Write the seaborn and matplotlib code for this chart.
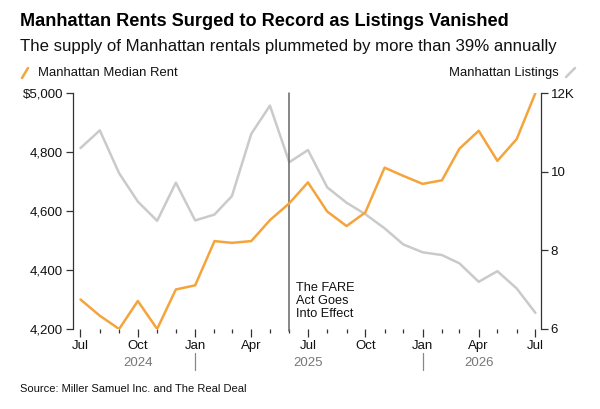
import numpy as np
import pandas as pd
import seaborn as sns
import matplotlib
matplotlib.use('Agg')
import matplotlib.pyplot as plt
import matplotlib.dates as mdates
from matplotlib.lines import Line2D
from matplotlib.ticker import FuncFormatter

months = pd.date_range("2024-07-01", periods=25, freq="MS")
rent = [4300, 4245, 4200, 4295, 4200, 4334, 4348, 4498, 4492, 4498, 4569, 4626,
        4697, 4598, 4549, 4595, 4747, 4719, 4692, 4704, 4811, 4872, 4770, 4844, 5000]
listings = [10.60, 11.05, 9.96, 9.24, 8.75, 9.72, 8.76, 8.91, 9.38, 10.96, 11.68, 10.24,
            10.55, 9.60, 9.21, 8.92, 8.56, 8.15, 7.95, 7.88, 7.67, 7.20, 7.47, 7.03, 6.41]
rent_ticks = [4200, 4400, 4600, 4800, 5000]
listing_ticks = [6, 8, 10, 12]
year_labels = ["2024", "2025", "2026"]
year_centers = ["2024-10-01", "2025-07-01", "2026-04-01"]
year_breaks = ["2025-01-01", "2026-01-01"]
event_date = "2025-06-01"

ORANGE = "#f5a43c"
GRAY = "#cacaca"
DARK = "#333333"
TXT = "#111111"

df = pd.DataFrame({"month": months, "rent": rent, "listings": listings})

sns.set_style("ticks")
plt.rcParams['font.family'] = ['Liberation Sans', 'DejaVu Sans']

fig = plt.figure(figsize=(6, 4.09), dpi=100)
ax = fig.add_axes([0.1217, 0.1956, 0.78, 0.577])
ax2 = ax.twinx()

# listings go behind the rent line
ax.set_zorder(ax2.get_zorder() + 1)
ax.patch.set_visible(False)

sns.lineplot(data=df, x="month", y="listings", ax=ax2, color=GRAY, linewidth=1.8)
sns.lineplot(data=df, x="month", y="rent", ax=ax, color=ORANGE, linewidth=1.8)

ax.set_xlim(pd.Timestamp("2024-06-19"), pd.Timestamp("2026-07-10"))
ax.set_ylim(4200, 5000)
ax2.set_ylim(6, 12)
ax.set_yticks(rent_ticks)
ax2.set_yticks(listing_ticks)
ax.yaxis.set_major_formatter(FuncFormatter(lambda v, p: f"${v:,.0f}" if v == 5000 else f"{v:,.0f}"))
ax2.yaxis.set_major_formatter(FuncFormatter(lambda v, p: f"{v:.0f}K" if v == 12 else f"{v:.0f}"))

ax.xaxis.set_major_locator(mdates.MonthLocator(bymonth=[1, 4, 7, 10]))
ax.xaxis.set_major_formatter(mdates.DateFormatter("%b"))
ax.xaxis.set_minor_locator(mdates.MonthLocator())

for a in (ax, ax2):
    a.set_xlabel("")
    a.set_ylabel("")
    a.spines["top"].set_visible(False)
    a.spines["bottom"].set_visible(False)
    a.spines["left"].set_color(DARK)
    a.spines["right"].set_color(DARK)
    a.spines["left"].set_linewidth(0.9)
    a.spines["right"].set_linewidth(0.9)
ax.spines["right"].set_visible(False)
ax2.spines["left"].set_visible(False)

ax.tick_params(axis="x", which="major", length=6, width=0.9, color=DARK, labelsize=9.5, pad=2, labelcolor=TXT)
ax.tick_params(axis="x", which="minor", length=3, width=0.9, color=DARK)
ax.tick_params(axis="y", length=5, width=0.9, color=DARK, labelsize=9.5, pad=2, labelcolor=TXT)
ax2.tick_params(axis="y", length=5, width=0.9, color=DARK, labelsize=9.5, pad=2, labelcolor=TXT)

# event line and note
ev = pd.Timestamp(event_date)
xt = ax.get_xaxis_transform()
ax.plot([ev, ev], [-0.01, 1.0], transform=xt, color="#666666",
        linewidth=1.1, clip_on=False, zorder=1)
ax.text(ev + pd.Timedelta(days=11), 0.2, "The FARE\nAct Goes\nInto Effect", transform=xt,
        fontsize=9.2, va="top", ha="left", linespacing=1.1, color=TXT)

# year labels under the month labels
for lab, c in zip(year_labels, year_centers):
    ax.text(pd.Timestamp(c), -0.145, lab, transform=xt, ha="center", va="center",
            fontsize=9.5, color="#777777")
for b in year_breaks:
    bt = pd.Timestamp(b)
    ax.plot([bt, bt], [-0.1, -0.175], transform=xt, color="#888888", linewidth=0.9, clip_on=False)

# header
fig.text(20 / 600, 1 - 22 / 409, "Manhattan Rents Surged to Record as Listings Vanished",
         fontsize=13.1, fontweight="bold", va="center", ha="left", color="#000000")
fig.text(20 / 600, 1 - 47 / 409, "The supply of Manhattan rentals plummeted by more than 39% annually",
         fontsize=12.1, va="center", ha="left", color=TXT)

# legend entries
fig.add_artist(Line2D([22 / 600, 28 / 600], [1 - 78 / 409, 1 - 68 / 409], color=ORANGE, linewidth=1.8))
fig.text(38 / 600, 1 - 73 / 409, "Manhattan Median Rent", fontsize=9.4, va="center", ha="left", color=TXT)
fig.add_artist(Line2D([566 / 600, 575 / 600], [1 - 77 / 409, 1 - 68 / 409], color=GRAY, linewidth=1.8))
fig.text(559 / 600, 1 - 73 / 409, "Manhattan Listings", fontsize=9.4, va="center", ha="right", color=TXT)

fig.text(20 / 600, 1 - 389 / 409, "Source: Miller Samuel Inc. and The Real Deal",
         fontsize=8.0, va="center", ha="left", color=TXT)

fig.savefig("out.png", dpi=100)
plt.close(fig)
